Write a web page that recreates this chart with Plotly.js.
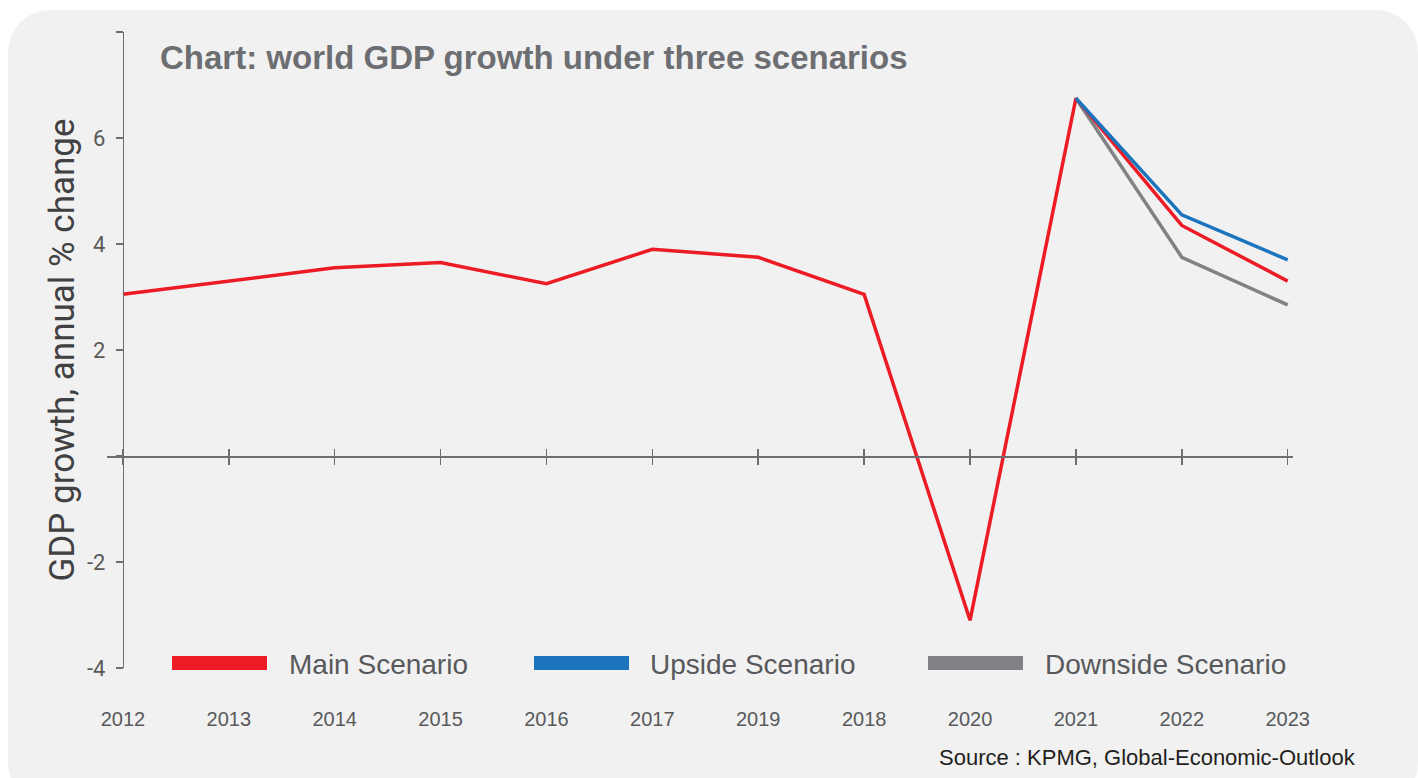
<!DOCTYPE html>
<html>
<head>
<meta charset="utf-8">
<script src="https://cdn.plot.ly/plotly-3.0.1.min.js"></script>
<style>
html,body{margin:0;padding:0;background:#ffffff;overflow:hidden;width:1418px;height:778px;}
#bg{position:absolute;left:8px;top:10px;width:1410px;height:795px;background:#f1f1f1;border-radius:42px;}
#chart{position:absolute;left:0;top:0;width:1418px;height:778px;}
</style>
</head>
<body>
<div id="bg"></div>
<div id="chart"></div>
<script>
// ---- data ----
const years = ['2012','2013','2014','2015','2016','2017','2019','2018','2020','2021','2022','2023'];
const mainScenario = [3.05, 3.3, 3.55, 3.65, 3.25, 3.9, 3.75, 3.05, -3.1, 6.75, 4.35, 3.3];
const upsideScenario = [null, null, null, null, null, null, null, null, null, 6.75, 4.55, 3.7];
const downsideScenario = [null, null, null, null, null, null, null, null, null, 6.75, 3.75, 2.85];
const seriesNames = ['Main Scenario', 'Upside Scenario', 'Downside Scenario'];
const yTickVals = [-4, -2, 0, 2, 4, 6, 8];
const yTickText = ['-4', '-2', '', '2', '4', '6', ''];
const chartTitle = 'Chart: world GDP growth under three scenarios';
const yTitle = 'GDP growth, annual % change';
const sourceText = 'Source : KPMG, Global-Economic-Outlook';

// ---- styles / layout ----
const colors = {main: '#ed1c24', up: '#1c75bc', down: '#808285'};
const W = 1418, H = 778, L = 107, R = 1293, T = 32, B = 668;
const fx = px => (px - L) / (R - L);
const fy = py => (B - py) / (B - T);
const xRange = [-0.15, 11.05];
const yRange = [-4, 8];
const zeroFrac = (0 - yRange[0]) / (yRange[1] - yRange[0]);
const yAxisFrac = (0 - xRange[0]) / (xRange[1] - xRange[0]);
const axisColor = '#6d6e71';
const narrow = 'Liberation Sans, Arial, sans-serif';

const traces = [
  {x: years, y: downsideScenario, name: seriesNames[2], type: 'scatter', mode: 'lines',
   line: {color: colors.down, width: 3.5}, connectgaps: false, hoverinfo: 'skip'},
  {x: years, y: mainScenario, name: seriesNames[0], type: 'scatter', mode: 'lines',
   line: {color: colors.main, width: 3.5}, connectgaps: false, hoverinfo: 'skip'},
  {x: years, y: upsideScenario, name: seriesNames[1], type: 'scatter', mode: 'lines',
   line: {color: colors.up, width: 3.5}, connectgaps: false, hoverinfo: 'skip'},
  // carriers for the helper axes (tick marks above the zero line, labels at the bottom)
  {x: years, y: mainScenario, xaxis: 'x2', type: 'scatter', mode: 'none', hoverinfo: 'skip', showlegend: false},
  {x: years, y: mainScenario, xaxis: 'x3', type: 'scatter', mode: 'none', hoverinfo: 'skip', showlegend: false}
];

const legendColors = [colors.main, colors.up, colors.down];
const swatchStart = [172, 534, 928];
const textStart = [287, 648, 1043];
const shapes = seriesNames.map((n, i) => ({
  type: 'rect', xref: 'paper', yref: 'paper',
  x0: fx(swatchStart[i]), x1: fx(swatchStart[i] + 95), y0: fy(670), y1: fy(656),
  fillcolor: legendColors[i], line: {width: 0}
}));
const annotations = seriesNames.map((n, i) => ({
  text: n, xref: 'paper', yref: 'paper', x: fx(textStart[i]), y: fy(664),
  xanchor: 'left', yanchor: 'middle', showarrow: false,
  font: {family: narrow, size: 28, color: '#58595b'}
}));
annotations.push({
  text: sourceText, xref: 'paper', yref: 'paper', x: fx(1358), y: fy(757),
  xanchor: 'right', yanchor: 'middle', showarrow: false,
  font: {family: narrow, size: 22, color: '#231f20'}
});

const helperX = {type: 'category', range: xRange, showgrid: false, zeroline: false, fixedrange: true};

const layout = {
  width: W, height: H,
  margin: {l: L, r: W - R, t: T, b: H - B, pad: 0},
  paper_bgcolor: 'rgba(0,0,0,0)', plot_bgcolor: 'rgba(0,0,0,0)',
  showlegend: false,
  title: {text: chartTitle, xref: 'container', yref: 'container', x: 160 / W, y: 1 - 57 / H,
          xanchor: 'left', yanchor: 'middle',
          font: {family: narrow, size: 33, weight: 'bold', color: '#6d6e71'}},
  xaxis: Object.assign({}, helperX, {anchor: 'free', position: zeroFrac,
          showline: true, linecolor: axisColor, linewidth: 1.5,
          ticks: 'outside', ticklen: 7, tickwidth: 1.5, tickcolor: axisColor,
          showticklabels: false}),
  xaxis2: Object.assign({}, helperX, {overlaying: 'x', anchor: 'free', position: zeroFrac,
           ticks: 'inside', ticklen: 7, tickwidth: 1.5, tickcolor: axisColor,
           showticklabels: false, showline: false}),
  xaxis3: Object.assign({}, helperX, {overlaying: 'x', anchor: 'y', side: 'bottom',
           ticks: '', showline: false, ticklabelstandoff: 37,
           tickfont: {family: narrow, size: 20, color: '#58595b'}}),
  yaxis: {range: yRange, anchor: 'free', position: yAxisFrac,
          showline: true, linecolor: axisColor, linewidth: 1.5,
          ticks: 'outside', ticklen: 7, tickwidth: 1.5, tickcolor: axisColor,
          tickmode: 'array', tickvals: yTickVals, ticktext: yTickText,
          ticklabelstandoff: 6,
          tickfont: {family: 'Roboto, sans-serif', size: 22, color: '#595959'},
          showgrid: false, zeroline: false, fixedrange: true,
          title: {text: yTitle, standoff: 0, font: {family: 'Roboto, sans-serif', size: 35, color: '#414042'}}},
  shapes: shapes,
  annotations: annotations
};

Plotly.newPlot('chart', traces, layout, {staticPlot: true, displayModeBar: false});
</script>
</body>
</html>
